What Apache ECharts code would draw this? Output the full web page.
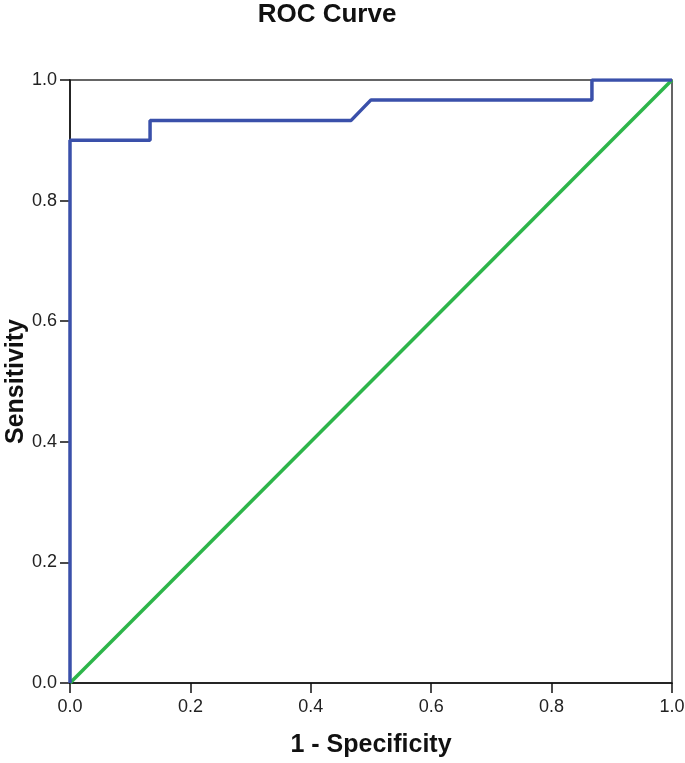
<!DOCTYPE html>
<html>
<head>
<meta charset="utf-8">
<script src="https://cdn.jsdelivr.net/npm/echarts@6/dist/echarts.min.js"></script>
<style>
  html, body { margin: 0; padding: 0; background: #fff; }
  #chart { width: 685px; height: 763px; }
</style>
</head>
<body>
<div id="chart"></div>
<script>
// ROC curve points (1 - specificity, sensitivity)
const rocFpr = [0, 0, 0.133, 0.133, 0.467, 0.5, 0.867, 0.867, 1];
const rocTpr = [0, 0.9, 0.9, 0.933, 0.933, 0.967, 0.967, 1, 1];
// reference diagonal
const refFpr = [0, 1];
const refTpr = [0, 1];

const chart = echarts.init(document.getElementById("chart"));
const axisFont = { color: "#222", fontSize: 18, fontFamily: "Liberation Sans" };
const nameFont = { fontSize: 25, fontWeight: "bold", color: "#111", fontFamily: "Liberation Sans" };

chart.setOption({
  backgroundColor: "#fff",
  animation: false,
  title: {
    text: "ROC Curve",
    left: 322,
    textAlign: "center",
    top: -3,
    textStyle: { fontSize: 26, fontWeight: "bold", color: "#111", fontFamily: "Liberation Sans" },
  },
  grid: {
    left: 70,
    right: 13,
    top: 80,
    bottom: 80,
    outerBoundsMode: "none",
    containLabel: false,
    show: true,
    borderColor: "#333",
    borderWidth: 1.5,
  },
  xAxis: {
    type: "value",
    min: 0,
    max: 1,
    interval: 0.2,
    name: "1 - Specificity",
    nameLocation: "middle",
    nameGap: 50,
    nameMoveOverlap: false,
    nameTextStyle: nameFont,
    axisLine: { lineStyle: { color: "#111", width: 1.5 } },
    axisTick: { show: true, inside: false, length: 10, lineStyle: { color: "#111", width: 1.5 } },
    axisLabel: Object.assign({ formatter: (v) => v.toFixed(1), margin: 15 }, axisFont),
    splitLine: { show: false },
  },
  yAxis: {
    type: "value",
    min: 0,
    max: 1,
    interval: 0.2,
    name: "Sensitivity",
    nameLocation: "middle",
    nameGap: 41,
    nameMoveOverlap: false,
    nameTextStyle: nameFont,
    axisLine: { lineStyle: { color: "#111", width: 1.5 } },
    axisTick: { show: true, inside: false, length: 10, lineStyle: { color: "#111", width: 1.5 } },
    axisLabel: Object.assign({ formatter: (v) => v.toFixed(1), margin: 13 }, axisFont),
    splitLine: { show: false },
  },
  series: [
    {
      type: "line",
      data: refFpr.map((x, i) => [x, refTpr[i]]),
      showSymbol: false,
      lineStyle: { color: "#2db54a", width: 3.5 },
      z: 2,
    },
    {
      type: "line",
      data: rocFpr.map((x, i) => [x, rocTpr[i]]),
      showSymbol: false,
      lineStyle: { color: "#3a50aa", width: 3.5 },
      z: 3,
    },
  ],
});
</script>
</body>
</html>
